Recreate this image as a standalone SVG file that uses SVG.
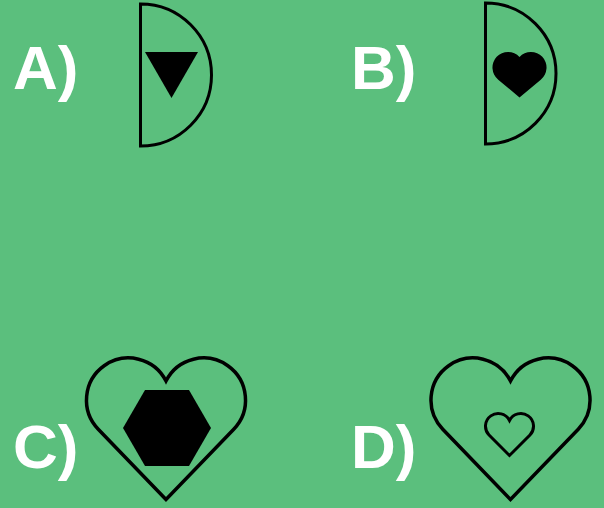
<svg xmlns="http://www.w3.org/2000/svg" width="604" height="508" viewBox="0 0 604 508">
<style>
.lbl{font-family:"Liberation Sans",Arial,sans-serif;font-weight:bold;font-size:62px;fill:#ffffff}
.ol{fill:none;stroke:#000;stroke-width:3;stroke-linejoin:miter}
.hol{fill:none;stroke:#000;stroke-width:3.5;stroke-linejoin:miter}
.fl{fill:#000;stroke:none}
</style>
<defs>
<path id="bigheart" d="M166,499.5 L98.26,429.19 A42.03,42.03 0 1 1 166,381 A42.03,42.03 0 1 1 233.74,429.19 Z"/>
</defs>
<rect width="604" height="508" fill="#5bbf7d"/>
<g id="optionA">
<text class="lbl" x="13" y="89">A)</text>
<path class="ol" d="M140.5,4 A71,71 0 0 1 140.5,146 Z"/>
<polygon class="fl" points="145,52 198,52 171.5,98"/>
</g>
<g id="optionB">
<text class="lbl" x="351" y="89">B)</text>
<path class="ol" d="M485.5,3 A70.5,70.5 0 0 1 485.5,144 Z"/>
<path class="fl" d="M519.5,97.5 L498.23,79.63 A15.57,15.57 0 1 1 519.5,57 A15.57,15.57 0 1 1 540.77,79.63 Z"/>
</g>
<g id="optionC">
<text class="lbl" x="13" y="468">C)</text>
<use href="#bigheart" class="hol"/>
<polygon class="fl" points="123,428 145,390 189,390 211,428 189,466 145,466"/>
</g>
<g id="optionD">
<text class="lbl" x="351" y="468">D)</text>
<use href="#bigheart" class="hol" transform="translate(344.5,0)"/>
<path class="ol" d="M509.5,455.5 L489.04,435 A12.69,12.69 0 1 1 509.5,420.45 A12.69,12.69 0 1 1 529.96,435 Z"/>
</g>
<g id="connectors"></g>
</svg>
